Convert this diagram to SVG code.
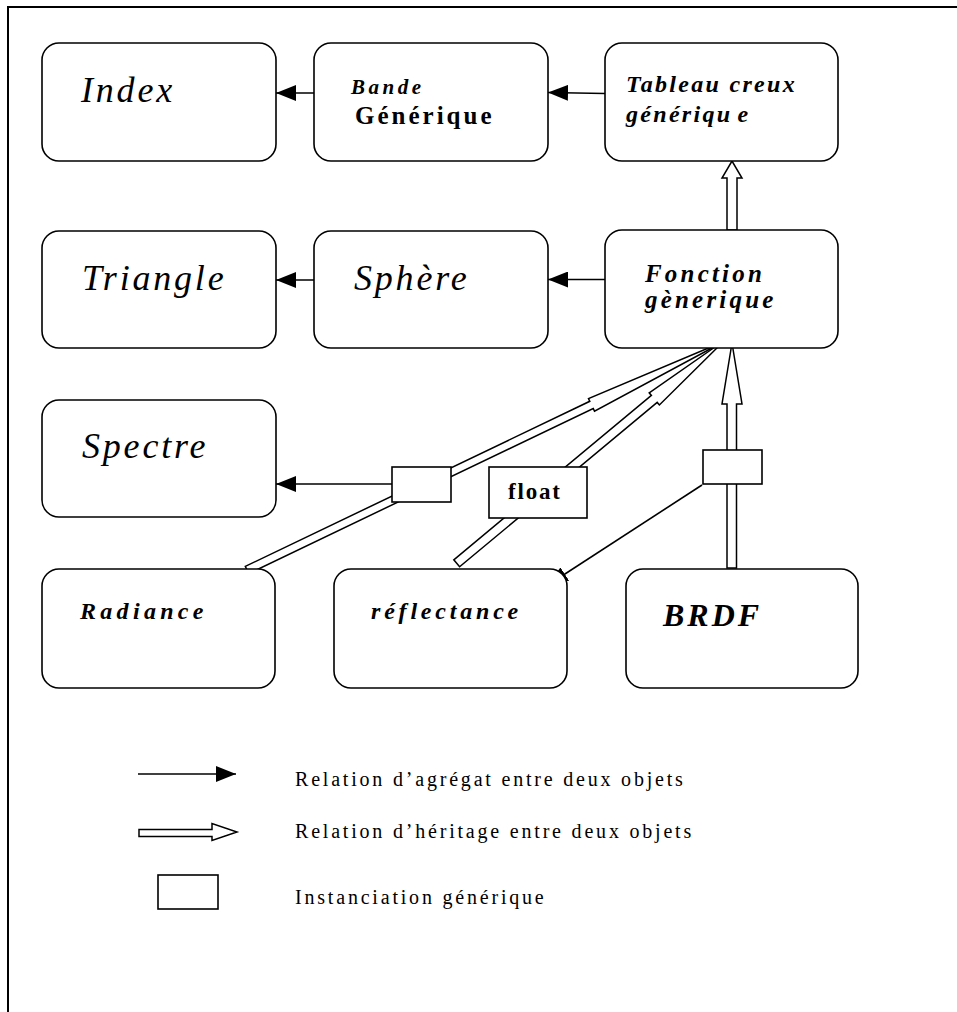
<svg xmlns="http://www.w3.org/2000/svg" width="957" height="1012" viewBox="0 0 957 1012">
<style>
.node{fill:#fff;stroke:#000;stroke-width:1.6}
.inst{fill:#fff;stroke:#000;stroke-width:1.6}
.agg{fill:none;stroke:#000;stroke-width:1.6}
.inh{fill:#fff;stroke:#000;stroke-width:1.5;stroke-linejoin:miter}
text{font-family:"Liberation Serif","Times New Roman",serif;fill:#000}
.big{font-style:italic;font-size:36px;letter-spacing:2.8px}
.bi{font-style:italic;font-weight:bold}
.leg{font-size:20px;letter-spacing:2.8px}
</style>
<defs>
<marker id="ah" markerUnits="userSpaceOnUse" viewBox="0 0 20 16" refX="20" refY="8" markerWidth="20" markerHeight="16" orient="auto">
<path d="M0,0 L20,8 L0,16 z" fill="#000"/>
</marker>
</defs>
<rect width="957" height="1012" fill="#fff"/>
<g id="frame">
<path d="M8,1012 L8,7 L957,7" fill="none" stroke="#000" stroke-width="2"/>
</g>
<g id="connectors">
<line class="agg" x1="605" y1="93.5" x2="548" y2="92.5" marker-end="url(#ah)"/>
<line class="agg" x1="314" y1="93" x2="276" y2="93" marker-end="url(#ah)"/>
<line class="agg" x1="605" y1="279.5" x2="548" y2="279.5" marker-end="url(#ah)"/>
<line class="agg" x1="314" y1="280" x2="276" y2="280" marker-end="url(#ah)"/>
<line class="agg" x1="392" y1="484" x2="276" y2="484" marker-end="url(#ah)"/>
<line class="agg" x1="702" y1="485" x2="548" y2="585" marker-end="url(#ah)"/>
<polygon class="inh" points="727,230 727,178 722,178 732,161 742,178 737,178 737,230"/>
<polygon class="inh" points="727,568 727,404 722,404 732,343 742,404 736.5,404 736.5,568"/>
<polygon class="inh" points="245.3,566.4 589.8,401.3 588.5,398.6 725,341 594.5,411.2 593.2,408.5 248.7,573.6"/>
<polygon class="inh" points="453.8,559.8 651.4,395.4 649.2,392.8 725,340 659.4,405 657.2,402.4 459.6,566.8"/>
</g>
<g id="inst-spectre"><rect class="inst" x="392" y="467" width="59" height="35"/></g>
<g id="inst-float"><rect class="inst" x="489" y="467" width="98" height="51"/><text x="508" y="499" font-size="23" font-weight="bold" letter-spacing="1.8">float</text></g>
<g id="inst-brdf"><rect class="inst" x="703" y="450" width="59" height="34"/></g>
<g id="node-index"><rect class="node" x="42" y="43" width="234" height="118" rx="17"/><text class="big" x="81" y="102">Index</text></g>
<g id="node-bande"><rect class="node" x="314" y="43" width="234" height="118" rx="17"/><text class="bi" x="351" y="94" font-size="21" letter-spacing="3.5">Bande</text><text x="355" y="124" font-size="25" font-weight="bold" letter-spacing="3">Générique</text></g>
<g id="node-tableau"><rect class="node" x="605" y="43" width="233" height="118" rx="17"/><text class="bi" x="626" y="91.5" font-size="24" letter-spacing="2.3">Tableau creux</text><text class="bi" x="626" y="121.5" font-size="24" letter-spacing="2.3">génériqu<tspan dx="5">e</tspan></text></g>
<g id="node-triangle"><rect class="node" x="42" y="231" width="234" height="117" rx="17"/><text class="big" x="82" y="290">Triangle</text></g>
<g id="node-sphere"><rect class="node" x="314" y="231" width="234" height="117" rx="17"/><text class="big" x="354" y="290">Sphère</text></g>
<g id="node-fonction"><rect class="node" x="605" y="230" width="233" height="118" rx="17"/><text class="bi" x="645" y="281.5" font-size="25" letter-spacing="3.2">Fonction</text><text class="bi" x="645" y="308" font-size="25" letter-spacing="3.2">gènerique</text></g>
<g id="node-spectre"><rect class="node" x="42" y="400" width="234" height="117" rx="17"/><text class="big" x="82" y="458">Spectre</text></g>
<g id="node-radiance"><rect class="node" x="42" y="569" width="233" height="119" rx="17"/><text class="bi" x="80" y="619" font-size="24" letter-spacing="4.3">Radiance</text></g>
<g id="node-reflectance"><rect class="node" x="334" y="569" width="233" height="119" rx="17"/><text class="bi" x="371" y="619" font-size="24" letter-spacing="3.8">réflectance</text></g>
<g id="node-brdf"><rect class="node" x="626" y="569" width="232" height="119" rx="17"/><text class="bi" x="663" y="626" font-size="32" letter-spacing="3">BRDF</text></g>
<g id="legend">
<line class="agg" x1="138" y1="774" x2="236" y2="774" marker-end="url(#ah)"/>
<text class="leg" x="295" y="786">Relation d’agrégat entre deux objets</text>
<polygon class="inh" points="139,829.5 212,829.5 212,823.5 237,832 212,840.5 212,836.5 139,836.5"/>
<text class="leg" x="295" y="838">Relation d’héritage entre deux objets</text>
<rect class="inst" x="158" y="875" width="60" height="34"/>
<text class="leg" x="295" y="904">Instanciation générique</text>
</g>
</svg>
